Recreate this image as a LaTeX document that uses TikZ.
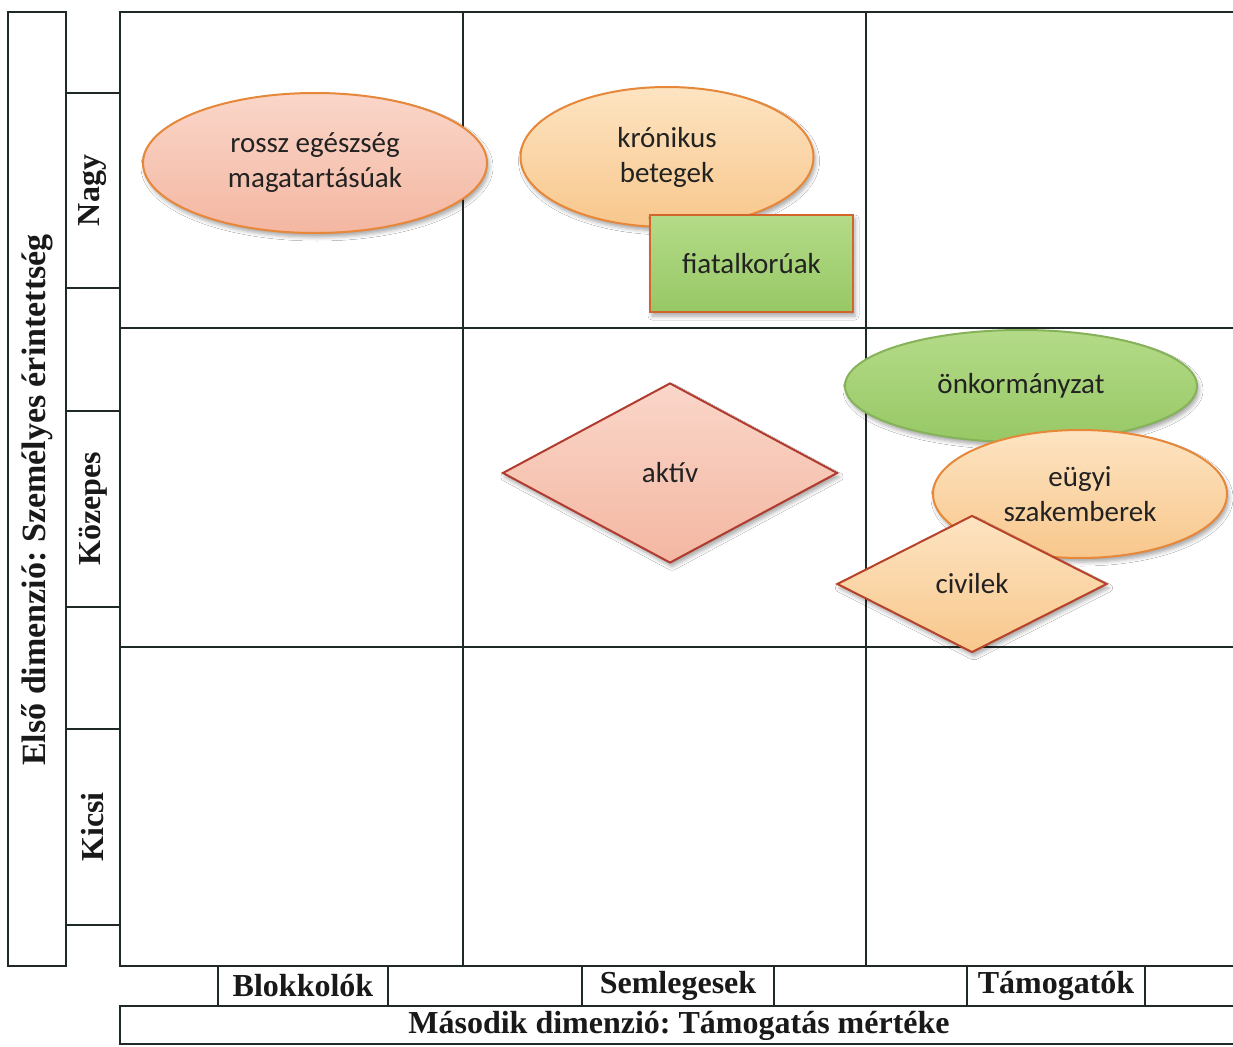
\documentclass[tikz,border=0pt]{standalone}
\usepackage{fontspec}
\setmainfont{Liberation Serif}
\newfontfamily\shapefont{Carlito}
\usetikzlibrary{shapes.geometric,shadows.blur}
\frenchspacing

\definecolor{gridline}{HTML}{1F2A27}
\definecolor{shapetext}{HTML}{222222}
\definecolor{salmontop}{HTML}{FAD6C9}
\definecolor{salmonbot}{HTML}{F4B7A2}
\definecolor{peachtop}{HTML}{FDE4C2}
\definecolor{peachbot}{HTML}{F8C78C}
\definecolor{greentop}{HTML}{B4DB88}
\definecolor{greenbot}{HTML}{97C865}
\definecolor{orangeedge}{HTML}{E6873A}
\definecolor{rededge}{HTML}{B03B2E}
\definecolor{greenedge}{HTML}{86B25A}
\definecolor{rectedge}{HTML}{D2642C}

\tikzset{
  gridln/.style={line width=2.2pt, draw=gridline},
  labeltext/.style={inner sep=0pt, font=\bfseries\fontsize{32}{38}\selectfont,
    text=black!90},
  cellbox/.style={labeltext, draw=gridline, line width=2.2pt},
  blob/.style={inner sep=0pt, line width=2pt, align=center, text=shapetext,
    font=\shapefont\fontsize{29}{35}\selectfont,
    blur shadow={shadow xshift=2pt, shadow yshift=-4pt,
      shadow blur radius=4pt, shadow opacity=35}},
  salmonfill/.style={top color=salmontop, bottom color=salmonbot},
  peachfill/.style={top color=peachtop, bottom color=peachbot},
  greenfill/.style={top color=greentop, bottom color=greenbot},
}

\begin{document}
\begin{tikzpicture}[x=1pt,y=-1pt]
\useasboundingbox[fill=white] (0,0) rectangle (1233,1046);

% first dimension: outer box and level cells
\node[cellbox, minimum width=58pt, minimum height=954pt] (dim1) at (37,489) {};
\node[labeltext, rotate=90, font=\bfseries\fontsize{34}{40}\selectfont]
  (dim1txt) at (37,500) {Első dimenzió: Személyes érintettség};
\node[cellbox, minimum width=54pt, minimum height=195pt] (nagy) at (93,190.5) {};
\node[labeltext, rotate=90] at (nagy.center) {Nagy};
\node[cellbox, minimum width=54pt, minimum height=196pt] (kozepes) at (93,509) {};
\node[labeltext, rotate=90] at (kozepes.center) {Közepes};
\node[cellbox, minimum width=54pt, minimum height=196pt] (kicsi) at (93,827) {};
\node[labeltext, rotate=90] at (kicsi.center) {Kicsi};
\draw[gridln] (66,288) -- (120,288) (66,411) -- (120,411)
              (66,607) -- (120,607) (66,729) -- (120,729);

% main grid, open on the right
\draw[gridln] (1233,12) -- (120,12) -- (120,966) -- (1233,966);
\draw[gridln] (463,12) -- (463,966) (866,12) -- (866,966);
\draw[gridln] (120,328) -- (1233,328) (120,647) -- (1233,647);

% second dimension: group cells and axis title
\node[cellbox, minimum width=170pt, minimum height=40pt] (blokk) at (303,986) {};
\node[labeltext] at (blokk.center) {Blokkolók};
\node[cellbox, minimum width=192pt, minimum height=40pt] (semleg) at (678,986) {};
\node[labeltext] at (semleg.center) {Semlegesek};
\node[cellbox, minimum width=178pt, minimum height=40pt] (tamog) at (1056,986) {};
\node[labeltext] at (tamog.center) {Támogatók};
\draw[gridln] (1233,1006) -- (120,1006) -- (120,1044) -- (1233,1044);
\node[labeltext] (dim2) at (679,1026) {Második dimenzió: Támogatás mértéke};

% stakeholder groups
\node[blob, ellipse, salmonfill, draw=orangeedge,
  minimum width=344pt, minimum height=140pt] (rossz) at (315,163)
  {rossz egészség\\magatartásúak};
\node[blob, ellipse, peachfill, draw=orangeedge,
  minimum width=293pt, minimum height=140pt] (kronikus) at (667,157)
  {krónikus\\betegek};
\node[blob, rectangle, greenfill, draw=rectedge,
  minimum width=203pt, minimum height=97pt] (fiatal) at (751.5,263.5)
  {fiatalkorúak};
\node[blob, diamond, salmonfill, draw=rededge, shape aspect=1.86,
  minimum width=335pt, minimum height=180pt] (aktiv) at (670,473)
  {aktív};
\node[blob, ellipse, greenfill, draw=greenedge,
  minimum width=352pt, minimum height=112pt] (onkorm) at (1021,386)
  {önkormányzat};
\node[blob, ellipse, peachfill, draw=orangeedge,
  minimum width=294pt, minimum height=128pt] (eugyi) at (1080,494)
  {eügyi\\szakemberek};
\node[blob, diamond, peachfill, draw=rededge!90!orange, shape aspect=1.97,
  minimum width=270pt, minimum height=137pt] (civilek) at (972,584)
  {civilek};
\end{tikzpicture}
\end{document}
